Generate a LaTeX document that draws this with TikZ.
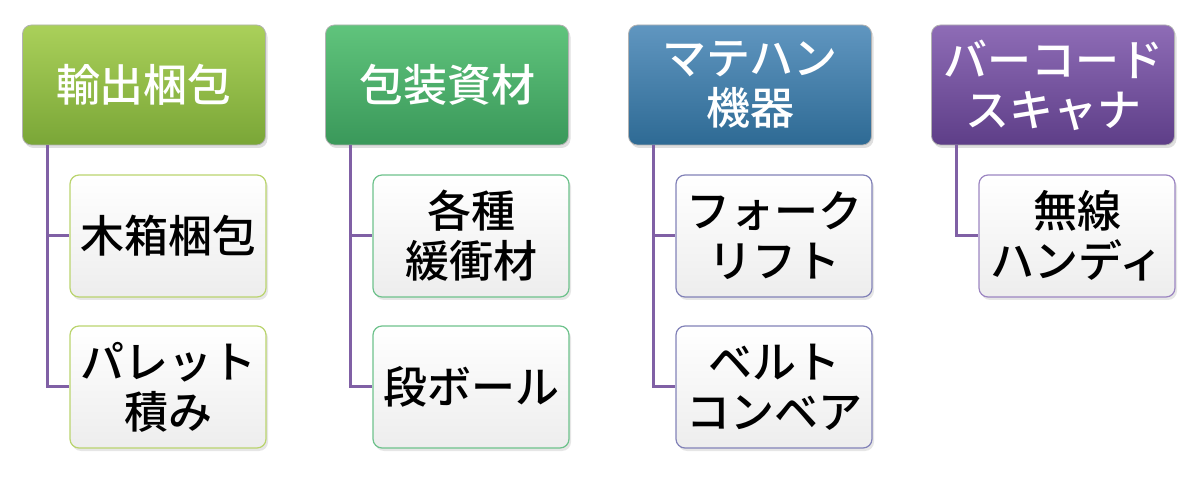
\documentclass[tikz,border=0pt]{standalone}
\usepackage{fontspec}
\newfontfamily\jpfont{Noto Sans CJK JP Medium}
\usepackage{tikz}
\usetikzlibrary{shadows}

\definecolor{linkpurple}{RGB}{128,96,165}
\definecolor{hdAtop}{RGB}{170,208,90}
\definecolor{hdAbot}{RGB}{122,166,55}
\definecolor{hdBtop}{RGB}{96,196,124}
\definecolor{hdBbot}{RGB}{58,152,90}
\definecolor{hdCtop}{RGB}{96,150,192}
\definecolor{hdCbot}{RGB}{46,106,148}
\definecolor{hdDtop}{RGB}{142,108,182}
\definecolor{hdDbot}{RGB}{94,62,136}

\begin{document}
\begin{tikzpicture}[x=1pt,y=-1pt,
		head/.style={rounded corners=9pt, minimum width=243pt, minimum height=120pt,
			draw=white!70!black, line width=0.8pt, text=white, align=center,
			font=\jpfont\fontsize{44}{50}\selectfont,
			drop shadow={shadow xshift=2pt,shadow yshift=-3pt,opacity=0.25}},
		leaf/.style={rounded corners=9pt, minimum width=196pt, minimum height=122pt,
			line width=1.2pt, top color=white, bottom color=black!7, text=black, align=center,
			font=\jpfont\fontsize{44}{50}\selectfont,
			drop shadow={shadow xshift=2pt,shadow yshift=-3pt,opacity=0.2}},
		link/.style={draw=linkpurple, line width=3pt}]
			\useasboundingbox (0,0) rectangle (1203,486);

			% headers
			\node[head, top color=hdAtop, bottom color=hdAbot] (pack) at (144,85) {輸出梱包};
			\node[head, top color=hdBtop, bottom color=hdBbot] (mate) at (447,85) {包装資材};
			\node[head, top color=hdCtop, bottom color=hdCbot] (mhe) at (750,85) {マテハン\\機器};
			\node[head, top color=hdDtop, bottom color=hdDbot] (scan) at (1053,85) {バーコード\\スキャナ};

			% leaves
			\node[leaf, draw={rgb,255:red,186;green,212;blue,110}] (crate) at (168,236) {木箱梱包};
			\node[leaf, draw={rgb,255:red,186;green,212;blue,110}] (pallet) at (168,387) {パレット\\積み};
			\node[leaf, draw={rgb,255:red,110;green,194;blue,140}] (cushion) at (471,236) {各種\\緩衝材};
			\node[leaf, draw={rgb,255:red,110;green,194;blue,140}] (carton) at (471,387) {段ボール};
			\node[leaf, draw={rgb,255:red,130;green,130;blue,184}] (fork) at (774,236) {フォーク\\リフト};
			\node[leaf, draw={rgb,255:red,130;green,130;blue,184}] (belt) at (774,387) {ベルト\\コンベア};
			\node[leaf, draw={rgb,255:red,156;green,134;blue,194}] (handy) at (1077,236) {無線\\ハンディ};

			% links
			\draw[link] ([xshift=25pt]pack.south west) |- (crate.west);
			\draw[link] ([xshift=25pt]pack.south west) |- (pallet.west);
			\draw[link] ([xshift=25pt]mate.south west) |- (cushion.west);
			\draw[link] ([xshift=25pt]mate.south west) |- (carton.west);
			\draw[link] ([xshift=25pt]mhe.south west) |- (fork.west);
			\draw[link] ([xshift=25pt]mhe.south west) |- (belt.west);
			\draw[link] ([xshift=25pt]scan.south west) |- (handy.west);
		\end{tikzpicture}
\end{document}
